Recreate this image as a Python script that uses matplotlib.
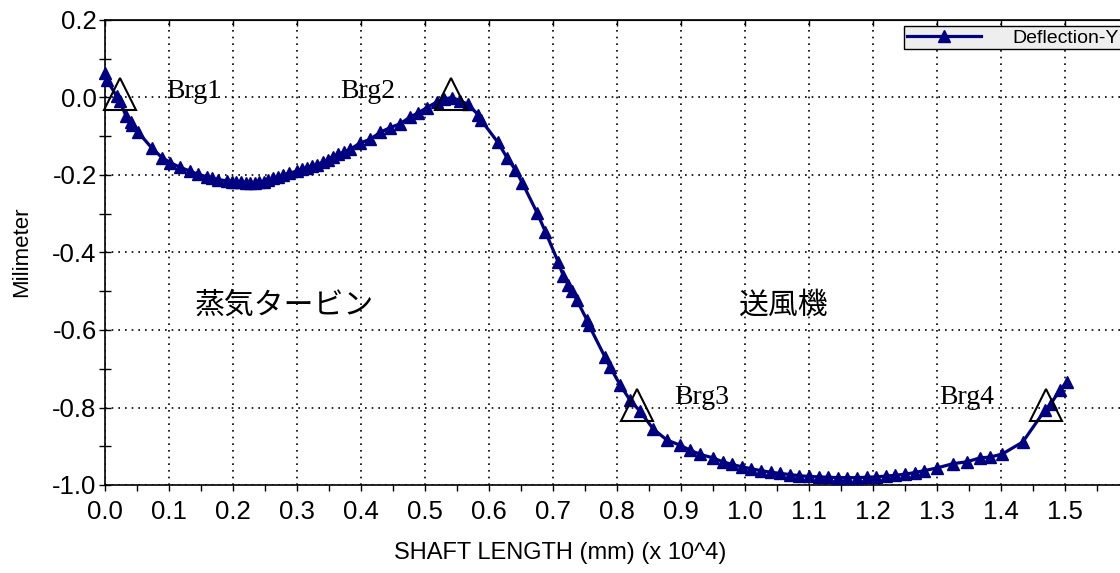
import matplotlib
matplotlib.use("Agg")
import matplotlib.pyplot as plt
from matplotlib.ticker import MultipleLocator

# Shaft length (x 10^4 mm) and deflection (mm)
shaft_x = [0.000, 0.003, 0.018, 0.023, 0.033, 0.040, 0.042, 0.052, 0.073, 0.089,
           0.102, 0.117, 0.133, 0.145, 0.160, 0.167, 0.177, 0.190, 0.198, 0.205,
           0.212, 0.220, 0.227, 0.234, 0.241, 0.248, 0.255, 0.263, 0.270, 0.278,
           0.288, 0.300, 0.308, 0.316, 0.324, 0.331, 0.340, 0.349, 0.356, 0.364,
           0.373, 0.383, 0.398, 0.414, 0.430, 0.445, 0.461, 0.477, 0.489, 0.503,
           0.519, 0.530, 0.542, 0.555, 0.567, 0.583, 0.587, 0.614, 0.628, 0.641,
           0.652, 0.675, 0.688, 0.708, 0.716, 0.724, 0.730, 0.737, 0.753, 0.756,
           0.781, 0.789, 0.805, 0.820, 0.836, 0.857, 0.878, 0.898, 0.914, 0.930,
           0.950, 0.965, 0.980, 0.995, 1.010, 1.025, 1.040, 1.055, 1.070, 1.085,
           1.100, 1.115, 1.130, 1.145, 1.160, 1.175, 1.190, 1.205, 1.220, 1.235,
           1.250, 1.265, 1.280, 1.300, 1.325, 1.347, 1.367, 1.383, 1.402, 1.434,
           1.469, 1.478, 1.492, 1.503]
deflection_y = [0.062, 0.045, 0.004, -0.010, -0.048, -0.062, -0.070, -0.090, -0.130, -0.155,
                -0.168, -0.180, -0.190, -0.198, -0.205, -0.208, -0.212, -0.215, -0.217, -0.218,
                -0.219, -0.220, -0.220, -0.220, -0.219, -0.217, -0.214, -0.209, -0.205, -0.200,
                -0.195, -0.190, -0.185, -0.181, -0.177, -0.173, -0.167, -0.160, -0.153, -0.147,
                -0.141, -0.134, -0.118, -0.108, -0.090, -0.078, -0.068, -0.050, -0.040, -0.026,
                -0.011, -0.004, 0.000, -0.008, -0.018, -0.044, -0.057, -0.116, -0.155, -0.186,
                -0.220, -0.297, -0.346, -0.424, -0.460, -0.483, -0.500, -0.522, -0.574, -0.587,
                -0.669, -0.695, -0.742, -0.780, -0.810, -0.856, -0.884, -0.897, -0.910, -0.921,
                -0.930, -0.940, -0.947, -0.953, -0.958, -0.963, -0.967, -0.970, -0.973, -0.976,
                -0.978, -0.979, -0.980, -0.981, -0.981, -0.981, -0.980, -0.979, -0.977, -0.975,
                -0.972, -0.968, -0.963, -0.956, -0.945, -0.940, -0.930, -0.928, -0.920, -0.889,
                -0.806, -0.790, -0.755, -0.734]

# bearings
brg_names = ["Brg1", "Brg2", "Brg3", "Brg4"]
brg_x = [0.023, 0.540, 0.831, 1.470]
brg_y = [0.008, 0.008, -0.793, -0.793]
brg_label_x = [0.095, 0.367, 0.889, 1.303]
brg_label_y = [0.0, 0.0, -0.79, -0.79]

regions = ["蒸気タービン", "送風機"]
region_x = [0.14, 0.99]
region_y = [-0.535, -0.535]

W, H = 1120, 573
fig = plt.figure(figsize=(W / 100, H / 100), dpi=100)
ax = fig.add_axes([105 / W, (H - 485) / H, 1024 / W, 465 / H])

ax.plot(shaft_x, deflection_y, color="#000080", lw=2.3, marker="^", ms=8,
        label="Deflection-Y", zorder=3, clip_on=False)
ax.plot(brg_x, brg_y, ls="none", marker="^", ms=23, mfc="none", mec="black",
        mew=1.5, zorder=4, clip_on=False)

for name, tx, ty in zip(brg_names, brg_label_x, brg_label_y):
    ax.text(tx, ty, name, fontsize=20, family="Liberation Serif",
            ha="left", va="baseline")
for name, tx, ty in zip(regions, region_x, region_y):
    ax.text(tx, ty, name, fontsize=21.5, family=["Noto Sans CJK JP", "DejaVu Sans"],
            ha="left", va="center")

ax.set_xlim(0, 1.6)
ax.set_ylim(-1.0, 0.2)
ax.xaxis.set_minor_locator(MultipleLocator(0.05))
ax.yaxis.set_major_locator(MultipleLocator(0.2))
ax.yaxis.set_minor_locator(MultipleLocator(0.1))
ax.set_xticks([i / 10 for i in range(16)])
ax.set_xticklabels([f"{i / 10:.1f}" for i in range(16)])
ax.set_yticklabels([f"{v:.1f}" for v in ax.get_yticks()])

for lab in ax.get_xticklabels() + ax.get_yticklabels():
    lab.set_family("Liberation Sans")
    lab.set_fontsize(18.5)

ax.tick_params(axis="x", which="both", direction="out", length=4, width=1, pad=7)
ax.tick_params(axis="y", which="both", direction="inout", length=8, width=1, pad=2)
ax.grid(True, which="major", color="black", ls=(0, (1, 3)), lw=1.2)
for s in ax.spines.values():
    s.set_color("black")
    s.set_linewidth(1.2)

# small inward ticks on the top edge
top = ax.secondary_xaxis("top")
top.set_xticks([i / 10 for i in range(16)])
top.tick_params(direction="in", length=4, width=1, labeltop=False)

fig.text(560 / W, 1 - 553 / H, "SHAFT LENGTH (mm) (x 10^4)", family="Liberation Sans",
         fontsize=17, ha="center", va="center")
fig.text(22 / W, 1 - 252 / H, "Milimeter", family="Liberation Sans", fontsize=16,
         rotation=90, ha="center", va="center")

leg = ax.legend(loc="upper left", bbox_to_anchor=(904 / W, 1 - 26 / H),
                bbox_transform=fig.transFigure, frameon=True,
                fancybox=False, handlelength=3.8, handletextpad=1.6,
                borderpad=0.15, borderaxespad=0, prop={"family": "Liberation Sans", "size": 14})
leg.get_frame().set_facecolor("#eeeeee")
leg.get_frame().set_edgecolor("black")
leg.get_frame().set_linewidth(1)
leg.get_frame().set_alpha(1)

fig.savefig("out.png", dpi=100)
